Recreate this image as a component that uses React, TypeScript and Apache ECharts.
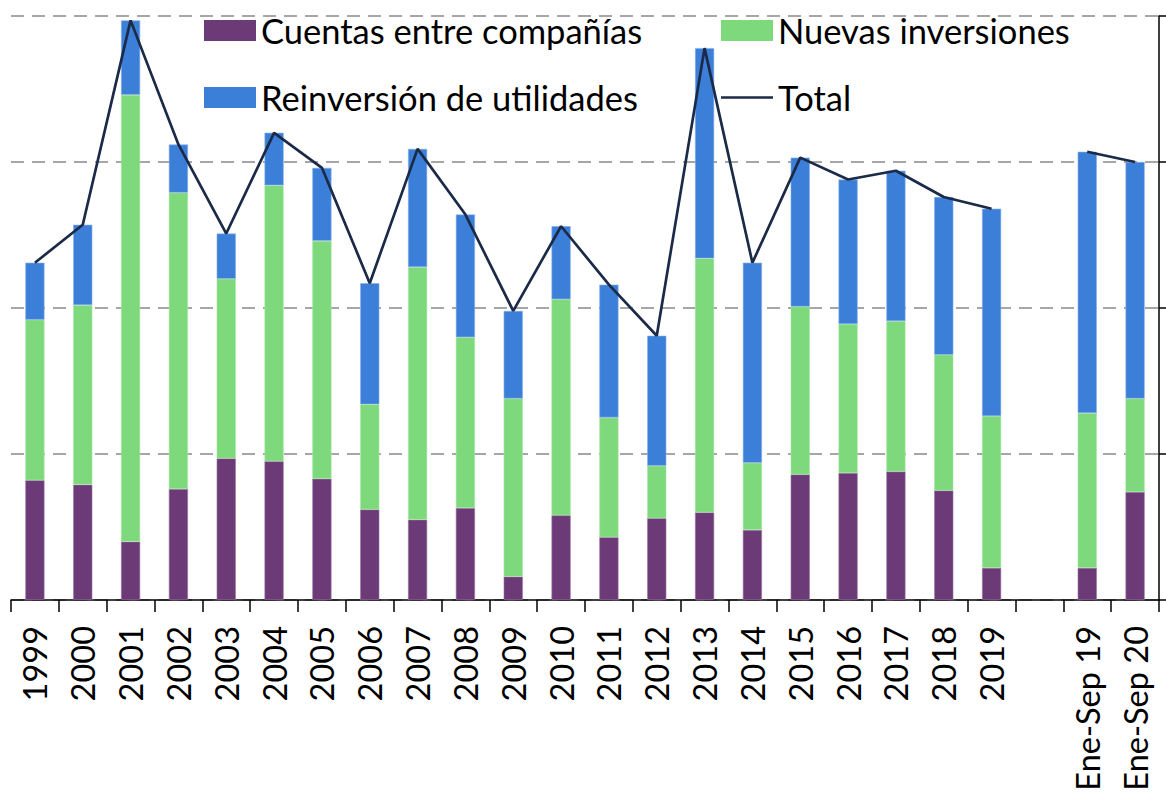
import React, { useEffect, useRef } from "react";
import * as echarts from "echarts";

const categories = [
  "1999", "2000", "2001", "2002", "2003", "2004", "2005", "2006", "2007", "2008",
  "2009", "2010", "2011", "2012", "2013", "2014", "2015", "2016", "2017", "2018",
  "2019", "", "Ene-Sep 19", "Ene-Sep 20",
];

const cuentasEntreCompanias = [
  8.2, 7.9, 4.0, 7.6, 9.7, 9.5, 8.3, 6.2, 5.5, 6.3,
  1.6, 5.8, 4.3, 5.6, 6.0, 4.8, 8.6, 8.7, 8.8, 7.5,
  2.2, null, 2.2, 7.4,
];

const nuevasInversiones = [
  11.0, 12.3, 30.6, 20.3, 12.3, 18.9, 16.3, 7.2, 17.3, 11.7,
  12.2, 14.8, 8.2, 3.6, 17.4, 4.6, 11.5, 10.2, 10.3, 9.3,
  10.4, null, 10.6, 6.4,
];

const reinversionUtilidades = [
  3.9, 5.5, 5.1, 3.3, 3.1, 3.6, 5.0, 8.3, 8.1, 8.4,
  6.0, 5.0, 9.1, 8.9, 14.4, 13.7, 10.2, 9.9, 10.3, 10.8,
  14.2, null, 17.9, 16.2,
];

const total = [
  23.1, 25.7, 39.7, 31.2, 25.1, 32.0, 29.6, 21.7, 30.9, 26.4,
  19.8, 25.6, 21.6, 18.1, 37.8, 23.1, 30.3, 28.8, 29.4, 27.6,
  26.8, null, 30.7, 30.0,
];

const yTicks = { min: 0, max: 40, interval: 10 };

const FONT = "Lato";
const LINE_COLOR = "#1b2a47";

export default function App() {
  const ref = useRef<HTMLDivElement>(null);

  useEffect(() => {
    if (!ref.current) return;
    const chart = echarts.init(ref.current, undefined, { renderer: "svg" });
    const legendText = { fontFamily: FONT, fontSize: 34.5, color: "#000" };
    const legendBase = {
      orient: "horizontal" as const,
      padding: 0,
      itemWidth: 52,
      itemHeight: 21,
      icon: "rect",
      selectedMode: false,
      textStyle: legendText,
      itemStyle: { borderWidth: 0 },
    };
    chart.setOption({
      animation: false,
      backgroundColor: "#fff",
      textStyle: { fontFamily: FONT },
      grid: { left: 11, right: 7, top: 16, bottom: 195, containLabel: false },
      legend: [
        { ...legendBase, left: 204, top: 13, data: ["Cuentas entre compañías"] },
        { ...legendBase, left: 721, top: 13, data: ["Nuevas inversiones"] },
        { ...legendBase, left: 204, top: 80, data: ["Reinversión de utilidades"] },
        {
          ...legendBase,
          left: 721,
          top: 80,
          itemHeight: 2.6,
          itemStyle: { borderWidth: 0, color: LINE_COLOR },
          data: ["Total"],
        },
      ],
      xAxis: {
        type: "category",
        data: categories,
        boundaryGap: true,
        axisLine: { show: true, lineStyle: { color: "#000", width: 1.5 } },
        axisTick: { show: true, interval: 0, length: 12, lineStyle: { color: "#000", width: 1.5 } },
        axisLabel: {
          interval: 0,
          rotate: 90,
          margin: 26,
          fontFamily: FONT,
          fontSize: 32.5,
          color: "#000",
        },
        splitLine: { show: false },
      },
      yAxis: {
        type: "value",
        position: "right",
        min: yTicks.min,
        max: yTicks.max,
        interval: yTicks.interval,
        axisLabel: { show: false },
        axisLine: { show: true, lineStyle: { color: "#000", width: 1.5 } },
        axisTick: { show: true, length: 7, lineStyle: { color: "#000", width: 1.5 } },
        splitLine: {
          show: true,
          lineStyle: { color: "#a6a6a6", width: 2, type: [13, 8] },
        },
      },
      series: [
        {
          name: "Cuentas entre compañías",
          type: "bar",
          stack: "ied",
          barWidth: "40%",
          data: cuentasEntreCompanias,
          itemStyle: { color: "#6c3a77", borderColor: "#9a78a2", borderWidth: 0.6 },
        },
        {
          name: "Nuevas inversiones",
          type: "bar",
          stack: "ied",
          barWidth: "40%",
          data: nuevasInversiones,
          itemStyle: { color: "#7dd97b", borderColor: "#a9e6a7", borderWidth: 0.6 },
        },
        {
          name: "Reinversión de utilidades",
          type: "bar",
          stack: "ied",
          barWidth: "40%",
          data: reinversionUtilidades,
          itemStyle: { color: "#3c7fd9", borderColor: "#86b0ea", borderWidth: 0.6 },
        },
        {
          name: "Total",
          type: "line",
          data: total,
          symbol: "none",
          connectNulls: false,
          lineStyle: { color: LINE_COLOR, width: 2.7 },
          itemStyle: { color: LINE_COLOR },
          z: 5,
        },
      ],
    });
    return () => chart.dispose();
  }, []);

  return (
    <div
      ref={ref}
      style={{ position: "fixed", left: 0, top: 0, width: 1166, height: 795, background: "#fff" }}
    />
  );
}
